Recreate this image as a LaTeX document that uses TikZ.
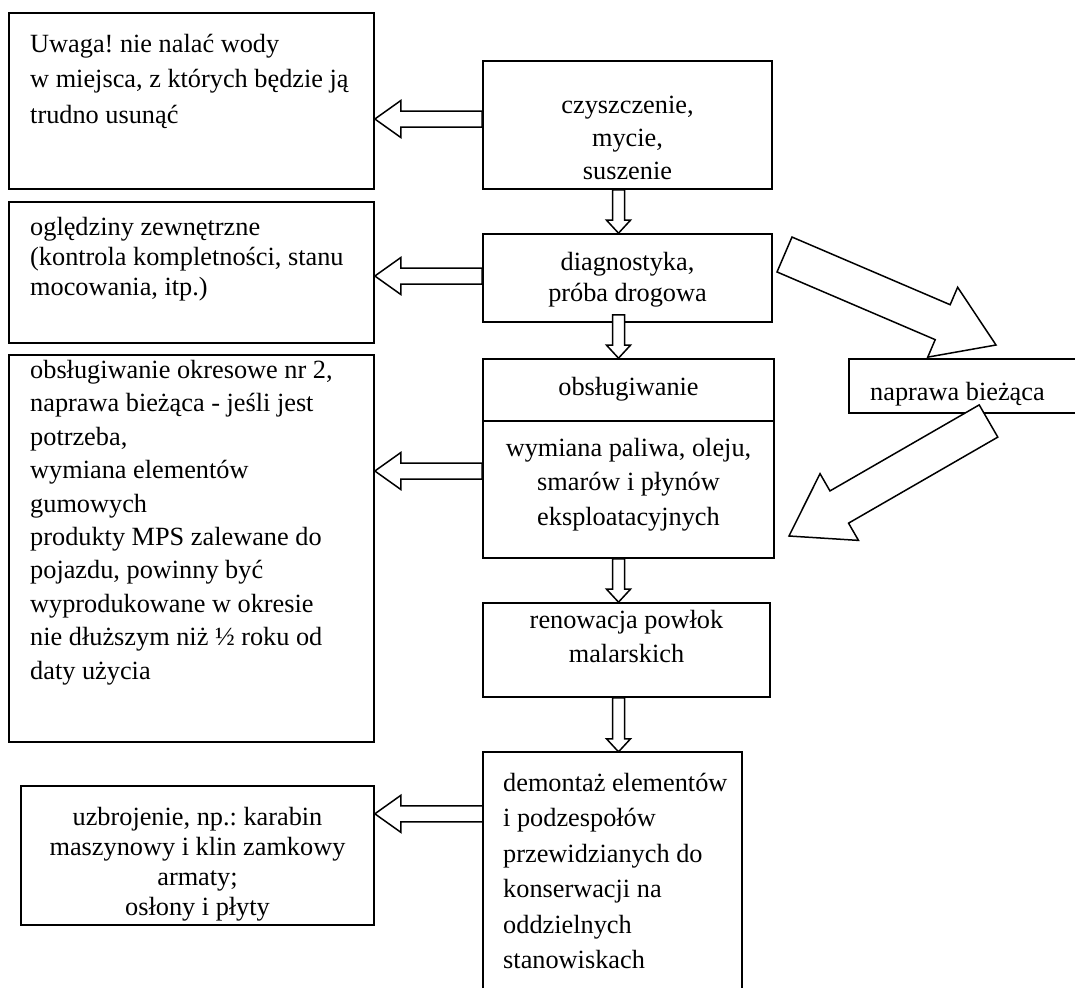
\documentclass[tikz,border=0pt]{standalone}
\usepackage{fontspec}
\setmainfont{Liberation Serif}
\usetikzlibrary{calc}
\frenchspacing

% hollow block arrow from #1 to #2: half shaft width #3, half head width #4, head length #5
\newcommand\hollowarrow[5]{%
  \draw[fatarrow] let \p1=#1, \p2=#2,
      \n1={atan2(\y2-\y1,\x2-\x1)},
      \n2={veclen(\x2-\x1,\y2-\y1)} in
    [shift={(\p1)}, rotate=\n1]
    (0,#3) -- (\n2-#5,#3) -- (\n2-#5,#4) -- (\n2,0)
    -- (\n2-#5,-#4) -- (\n2-#5,-#3) -- (0,-#3) -- cycle;}

\begin{document}
\begin{tikzpicture}[x=1pt,y=1pt,
  box/.style={draw, line width=1.7pt, inner sep=0pt},
  frame/.style={inner sep=0pt},
  edge/.style={line width=1.7pt},
  fatarrow/.style={draw, fill=white, line width=1.5pt, line join=miter},
  txt/.style={inner sep=0pt},
  txtl/.style={txt, align=left, anchor=north west},
  txtc/.style={txt, align=center, anchor=north},
  fs/.style={font=\fontsize{26.3}{#1}\selectfont}]

\useasboundingbox (0,0) rectangle (1075,-997);
\clip (0,0) rectangle (1075,-997);
\fill[white] (0,0) rectangle (1075,-997);

% ---- boxes ----
\node[box, minimum width=365pt, minimum height=176pt] (A) at (191.5,-101) {};
\node[box, minimum width=289pt, minimum height=128pt] (B) at (627.5,-125) {};
\node[box, minimum width=289pt, minimum height=88pt]  (C) at (627.5,-278) {};
\node[box, minimum width=365pt, minimum height=141pt] (D) at (191.5,-272.5) {};
\node[box, minimum width=291pt, minimum height=199pt] (E) at (628.5,-458.5) {};
\node[box, minimum width=365pt, minimum height=387pt] (I) at (191.5,-548.5) {};
\node[box, minimum width=287pt, minimum height=94pt]  (F) at (626.5,-650) {};
\node[box, minimum width=353pt, minimum height=139pt] (H) at (197.5,-855.5) {};

% box running off the right edge
\node[frame, minimum width=226pt, minimum height=54pt] (J) at (962,-386) {};
\draw[edge] (J.north east) -- (J.north west) -- (J.south west) -- (J.south east);

% box running off the bottom edge
\node[frame, minimum width=259pt, minimum height=236pt] (G) at (612.5,-870) {};
\draw[edge] (G.south west) -- (G.north west) -- (G.north east) -- (G.south east);

% divider inside the maintenance box
\coordinate (Ediv) at (0,-421);
\draw[edge] (E.west |- Ediv) -- (E.east |- Ediv);

% ---- texts ----
\node[txtl, fs=35.5] (At) at (30,-34)
  {Uwaga! nie nalać wody\\w miejsca, z których będzie ją\\trudno usunąć};
\node[txtc, fs=33] (Bt) at (627.5,-96) {czyszczenie,\\mycie,\\suszenie};
\node[txtc, fs=31] (Ct) at (627.5,-252) {diagnostyka,\\próba drogowa};
\node[txtl, fs=30] (Dt) at (30,-217)
  {oględziny zewnętrzne\\(kontrola kompletności, stanu\\mocowania, itp.)};
\node[txtc, fs=34] (Et1) at (628.5,-377) {obsługiwanie};
\node[txtc, fs=34.5] (Et2) at (628.5,-438)
  {wymiana paliwa, oleju,\\smarów i płynów\\eksploatacyjnych};
\node[txtl, fs=33.4] (It) at (30,-360)
  {obsługiwanie okresowe nr 2,\\naprawa bieżąca - jeśli jest\\potrzeba,\\wymiana elementów\\gumowych\\produkty MPS zalewane do\\pojazdu, powinny być\\wyprodukowane w okresie\\nie dłuższym niż ½ roku od\\daty użycia};
\node[txtc, fs=34] (Ft) at (626.5,-610) {renowacja powłok\\malarskich};
\node[txtl, fs=35.4] (Gt) at (503,-773)
  {demontaż elementów\\i podzespołów\\przewidzianych do\\konserwacji na\\oddzielnych\\stanowiskach};
\node[txtc, fs=30] (Ht) at (197.5,-807)
  {uzbrojenie, np.: karabin\\maszynowy i klin zamkowy\\armaty;\\osłony i płyty};
\node[txtl, fs=34] (Jt) at (870,-382) {naprawa bieżąca};

% ---- connectors ----
\coordinate (spine) at (618.5,0);
\hollowarrow{(B.south -| spine)}{(C.north -| spine)}{6}{12}{13}
\hollowarrow{($(C.south -| spine)+(0,8)$)}{(E.north -| spine)}{6}{12}{13}
\hollowarrow{(E.south -| spine)}{(F.north -| spine)}{6}{12}{13}
\hollowarrow{(F.south -| spine)}{(G.north -| spine)}{6}{12}{13}

\coordinate (rowA) at ($(B.west)+(0,6)$);
\coordinate (rowD) at ($(C.west)+(0,2)$);
\coordinate (rowI) at ($(E.west)+(0,-12.5)$);
\coordinate (rowH) at ($(G.north west)+(0,-62)$);
\hollowarrow{(rowA)}{(A.east |- rowA)}{8}{18.5}{26}
\hollowarrow{(rowD)}{(D.east |- rowD)}{8}{18.5}{26}
\hollowarrow{(rowI)}{(I.east |- rowI)}{8}{18.5}{26}
\hollowarrow{(rowH)}{(H.east |- rowH)}{8}{18.5}{26}

% large arrows to and from the side box
\coordinate (ctail) at (784.5,-254.5);
\coordinate (jtip) at (996,-345);
\coordinate (jtail) at (988.5,-421);
\coordinate (etip) at (789,-536);
\hollowarrow{(ctail)}{(jtip)}{19}{38}{58}
\hollowarrow{(jtail)}{(etip)}{18.6}{38.5}{58}
\end{tikzpicture}
\end{document}
